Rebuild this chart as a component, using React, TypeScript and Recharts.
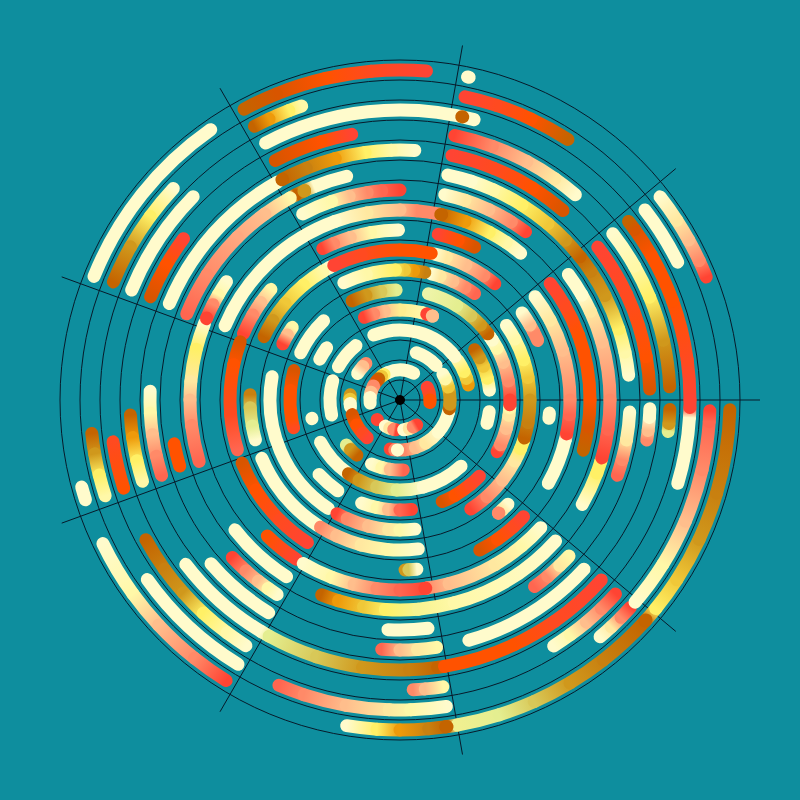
import React from 'react'
import { PieChart, Pie, PolarGrid } from 'recharts'

// palette
const W = '#FFFBCC', V = '#FFF8A8', N = '#FFE8A0', Y = '#FFF066', G = '#F0C838', A = '#EE9A0A', D = '#D0981C'
const B = '#C46400', O = '#FF5200', F = '#FF4A20', R = '#FF4433', T = '#FF6650', S = '#FF8A68', P = '#FFBE8C'
const L = '#E4EE90', M = '#D8C858', C = '#C88010', E = '#D85500'

type Stop = [number, string]

// each ring: list of arcs, each arc: [angle in degrees, colour] stops
const ring330: Stop[][] = [
    [[21.9, R], [25, S], [29, P], [33, N], [38, W]],
    [[77.9, W], [78.2, W]],
    [[85.4, R], [95, F], [103, O], [112, E], [118.2, B]],
    [[125, W], [158, W]],
    [[195.3, W], [197.6, W]],
    [[205.8, W], [216, V], [223, P], [231.5, S], [238.2, R]],
    [[260.7, W], [266, Y], [270, A], [275, C], [278, B], [280, '#F0F090'], [287.5, L], [294, M], [301, D], [308, C], [318, B], [320.8, Y], [327, G], [335, D], [343.6, C], [358.3, B]],
]
const ring310: Stop[][] = [
    [[26.4, W], [37.8, W]],
    [[57.2, B], [65, O], [72, F], [77.9, R]],
    [[108.5, V], [111, Y], [115, A], [118, B]],
    [[137, W], [143.7, Y], [150.4, D], [157.6, B]],
    [[186.2, B], [190, D], [194, Y], [198, V]],
    [[215.4, W], [238.5, W]],
    [[247, T], [252, S], [260, P], [268, N], [272, V], [278.6, W]],
    [[310.2, W], [313, N], [315.5, S], [318, R]],
    [[319.3, W], [328, V], [337, P], [347, S], [356, T], [358, R]],
]
const ring290: Stop[][] = [
    [[0, R], [8, F], [20, O], [30, O], [36, E], [38, B]],
    [[75.2, W], [117.6, W]],
    [[135.5, W], [157.7, W]],
    [[188.3, F], [197.7, O]],
    [[208.8, B], [215.7, C], [221.7, D], [227.3, Y], [233.4, V], [237.9, W]],
    [[272.6, S], [275, P], [278.5, V]],
    [[302, W], [306, V], [310, P], [314, S], [318, R]],
    [[343.3, W], [356.5, W], [358.5, R], [360, R]],
]
const ring270: Stop[][] = [
    [[2.8, B], [12.8, D], [22.4, Y], [29.7, V], [38, W]],
    [[49.5, W], [55, N], [62, P], [70, S], [78.3, R]],
    [[100.3, R], [107, O], [117.5, E]],
    [[143.3, R], [150, O], [157.5, E]],
    [[183.2, B], [188, A], [193, Y], [197.5, V]],
    [[217.5, W], [239, W], [241, L], [252, M], [262, D], [272, C], [278, B], [279.5, O], [295, O], [305, F], [318.2, R]],
    [[353.3, L], [355, D], [358, B]],
]
const ring250: Stop[][] = [
    [[2.5, E], [10, O], [25, F], [37.7, R]],
    [[49.3, E], [58, O], [68, F], [78, R]],
    [[86.6, W], [92, V], [98, Y], [105, A], [112, C], [118, B]],
    [[119.3, W], [157.3, W]],
    [[178, W], [183, V], [188, P], [193, S], [197.5, T]],
    [[220.9, W], [238.3, W]],
    [[265.8, T], [270, P], [274, N], [278.4, V]],
    [[286, W], [317.4, W]],
    [[350.8, S], [353, P], [356, W], [358, W]],
]
const ring230: Stop[][] = [
    [[6.2, W], [12, V], [18, Y], [27, D], [34, C], [38.5, B], [44, D], [50, G], [58, Y], [66, V], [72, W], [78, W]],
    [[103.4, W], [112, W], [114.5, D], [117, B], [118.5, V], [126, P], [135, '#FFA880'], [147, S], [158, T]],
    [[191, O], [196.7, O]],
    [[223.2, R], [228, S], [232, P], [235, V], [237.7, W]],
    [[267, W], [277, W]],
    [[305.8, T], [310, S], [314, N], [317.3, V]],
    [[340.9, T], [345, S], [350, N], [357, W]],
]
const ring210: Stop[][] = [
    [[0, S], [16, P], [25, N], [30, W], [36.7, W]],
    [[53.3, R], [58, S], [65, P], [72, N], [77.7, W]],
    [[90, R], [95, T], [99, S], [104, P], [109, V], [117.6, W]],
    [[145.7, W], [150, V], [153, S], [157, R]],
    [[158.5, W], [166, Y], [175, N], [180, P], [187, S], [197, T]],
    [[218.2, W], [237.3, W]],
    [[248.1, B], [253, A], [260, G], [266, Y], [275, '#F8F490'], [285, V], [317.8, W]],
    [[330.2, W], [339.6, Y], [343, Y], [344, R], [352, T], [360, S]],
]
const ring190: Stop[][] = [
    [[0, O], [20, O], [30, F], [37.8, R]],
    [[50.6, W], [56, V], [62, Y], [70, A], [77.4, B], [78, S], [85, S], [90, P], [100, N], [110, W], [157, W]],
    [[225.7, O], [237, R]],
    [[239.4, W], [249, V], [256, P], [263, S], [270, T], [277.6, R], [278.2, S], [285, P], [300, N], [310, V], [317.8, W]],
    [[344.7, B], [352, E], [360, O]],
]
const ring170: Stop[][] = [
    [[0, S], [17, P], [28, N], [37.4, W]],
    [[64, E], [70, O], [77, R]],
    [[90.5, W], [100, V], [107, P], [113, S], [117, R]],
    [[139.4, V], [145, P], [150, S], [157, R]],
    [[160, E], [168, O], [185, F], [197, T]],
    [[201.8, E], [212, O], [225, F], [237, R]],
    [[271.7, D], [273, M], [275.7, W]],
    [[298, E], [305, O], [312, F], [316.6, R]],
    [[330.7, W], [346.5, W], [348.5, R], [355, T], [360, S]],
]
const ring150: Stop[][] = [
    [[23.4, S], [27, S], [30, P], [35.5, W]],
    [[50.8, R], [56, S], [64, P], [72, N], [76.6, W]],
    [[78, O], [90, O], [105, F], [116, R], [118, W], [121, V], [130, Y], [140, G], [148, D], [155, B]],
    [[178, C], [183, M], [190, L], [195.4, W]],
    [[202.9, W], [236.8, W]],
    [[238, S], [245, P], [255, N], [265, V], [277, W]],
    [[311, S], [313, N], [316, W]],
    [[353, W], [355, W]],
]
const ring130: Stop[][] = [
    [[0, D], [10, G], [18, Y], [28, V], [35, W]],
    [[55, T], [60, S], [66, P], [72, N], [76, W]],
    [[79, C], [84, A], [88, G], [92, Y], [105, V], [115.6, W]],
    [[146, V], [150, P], [154.4, R]],
    [[169.7, W], [236.5, W]],
    [[241, R], [246, S], [256, P], [265, N], [270, V], [276.6, W]],
    [[303, R], [312, S], [322, P], [332, N], [338, Y], [341.5, Y], [343, B], [350, C], [360, D]],
]
const ring110: Stop[][] = [
    [[0, R], [10, S], [20, P], [28, V], [33, W], [35, W], [37, B], [43, D], [50, M], [59, L], [75, '#EEF4A8']],
    [[92, L], [100, M], [108, D], [115.8, B]],
    [[134, W], [154.6, W]],
    [[164.5, E], [175, O], [190, O], [194.6, F]],
    [[222.6, W], [235.6, W]],
    [[249.6, W], [258, V], [264, P], [270, T], [276, R]],
    [[292.6, E], [300, O], [310, F], [316.2, R]],
    [[332, R], [336, S], [345, P], [352, N], [356, V], [357.5, R], [360, R]],
]
const ring90: Stop[][] = [
    [[6.3, W], [14, Y], [22, G], [28, D], [34, B]],
    [[68.8, P], [72.5, R], [76, V], [90, '#FFEE90'], [100, P], [107, S], [113.3, R]],
    [[144.6, W], [153, W]],
    [[191.7, W], [192, W]],
    [[208, W], [234, W]],
    [[235, B], [243, D], [255, M], [268, L], [285, W], [312.7, W]],
    [[345, W], [352.5, W]],
]
const ring70: Stop[][] = [
    [[12.4, A], [18, G], [24, Y], [34.4, V]],
    [[38.5, W], [112, W]],
    [[129, W], [151.6, W]],
    [[164, W], [192.4, W]],
    [[220, L], [225, D], [232, B]],
    [[246, W], [255, V], [262, P], [272.7, T]],
]
const ring50: Stop[][] = [
    [[0, D], [7.6, D], [15, G], [25, V], [31, W]],
    [[43.7, W], [71, W]],
    [[133, S], [138, P], [148, W]],
    [[174, D], [179, G], [184, W], [188, W]],
    [[197, E], [210, O], [222, F], [229, R]],
    [[258.7, R], [264, S], [276, S], [288, P], [301, N], [320, W], [346, W], [350, B], [355, D], [360, D]],
]
const ring30: Stop[][] = [
    [[0, O], [15, F], [25, R]],
    [[63, W], [115, W], [122, Y], [128, G], [135, B], [142, E], [152, S], [165, P], [175, W], [186, W]],
    [[220.5, R], [221, R]],
    [[240.6, W], [250, N], [258, S], [262, R]],
    [[277, W], [288, N], [296, S], [303.7, R]],
    [[355, O], [360, O]],
]

const rings: [number, Stop[][]][] = [
    [330, ring330], [310, ring310], [290, ring290], [270, ring270], [250, ring250], [230, ring230], [210, ring210], [190, ring190],
    [170, ring170], [150, ring150], [130, ring130], [110, ring110], [90, ring90], [70, ring70], [50, ring50], [30, ring30],
]

// dots that sit on top of their neighbours: radius, angle, colour
const topDots: [number, number, string][] = [
    [330, 278, B], [330, 318, B], [290, 77.5, B], [250, 118, B], [230, 114.5, D], [210, 157, R], [190, 77.4, B], [190, 277.6, R],
    [150, 116, R], [150, 311, S], [90, 72.5, R], [90, 68.8, P], [50, 267, W],
]

const gridRadii = [20, 40, 60, 80, 100, 120, 140, 160, 180, 200, 220, 240, 260, 280, 300, 320, 340]
const spokeAngles = [0, 40, 80, 120, 160, 200, 240, 280, 320]
const centerDot = [{ value: 360 }]

const toRows = (id: string, arcs: Stop[][]) => {
    const rows: any[] = []
    let last = 0
    arcs.forEach((arc, a) => {
        if (arc[0][0] > last) rows.push({ value: arc[0][0] - last, gap: true, id: `${id}-g${a}` })
        for (let i = 1; i < arc.length; i++) {
            rows.push({ value: arc[i][0] - arc[i - 1][0], c0: arc[i - 1][1], c1: arc[i][1], id: `${id}-${a}-${i}` })
        }
        last = arc[arc.length - 1][0]
    })
    if (last < 360) rows.push({ value: 360 - last, gap: true, id: `${id}-end` })
    return rows
}

// one piece of a ring, stroked with round caps so the ends look like the dots of the original
const ArcPiece = (props: any) => {
    const { cx, cy, innerRadius, outerRadius, startAngle, endAngle } = props
    const row = props.payload ?? props
    if (row.gap) return null
    const r = (innerRadius + outerRadius) / 2
    const rad = Math.PI / 180
    const x0 = cx + r * Math.cos(startAngle * rad)
    const y0 = cy - r * Math.sin(startAngle * rad)
    const x1 = cx + r * Math.cos(endAngle * rad)
    const y1 = cy - r * Math.sin(endAngle * rad)
    const same = row.c0 === row.c1
    const large = Math.abs(endAngle - startAngle) > 180 ? 1 : 0
    return (
        <g>
            {!same && (
                <defs>
                    <linearGradient id={row.id} gradientUnits="userSpaceOnUse" x1={x0} y1={y0} x2={x1} y2={y1}>
                        <stop offset="0" stopColor={row.c0} />
                        <stop offset="1" stopColor={row.c1} />
                    </linearGradient>
                </defs>
            )}
            <path
                d={`M ${x0} ${y0} A ${r} ${r} 0 ${large} 0 ${x1} ${y1}`}
                fill="none"
                stroke={same ? row.c0 : `url(#${row.id})`}
                strokeWidth={outerRadius - innerRadius}
                strokeLinecap="round"
            />
        </g>
    )
}

const ringPie = (key: string, radius: number, rows: any[]) => (
    <Pie
        key={key}
        data={rows}
        dataKey="value"
        cx={400}
        cy={400}
        innerRadius={radius - 6.5}
        outerRadius={radius + 6.5}
        startAngle={0}
        endAngle={360}
        paddingAngle={0}
        stroke="none"
        shape={ArcPiece}
        inactiveShape={ArcPiece}
        label={false}
        labelLine={false}
        isAnimationActive={false}
    />
)

export default function App() {
    return (
        <div style={{ position: 'absolute', left: 0, top: 0, width: 800, height: 800, background: '#0E8E9E' }}>
            <PieChart width={800} height={800} margin={{ top: 0, right: 0, bottom: 0, left: 0 }} cx={400} cy={400} innerRadius={0} outerRadius={360}>
                {rings.map(([radius, arcs]) => ringPie(`r${radius}`, radius, toRows(`r${radius}`, arcs)))}
                {topDots.map(([radius, angle, colour], i) =>
                    ringPie(`t${i}`, radius, toRows(`t${i}`, [[[angle, colour], [angle + 0.2, colour]]]))
                )}
                <PolarGrid
                    cx={400}
                    cy={400}
                    innerRadius={0}
                    outerRadius={360}
                    gridType="circle"
                    polarAngles={spokeAngles}
                    polarRadius={gridRadii}
                    stroke="#071a2a"
                    strokeWidth={1}
                />
                <Pie
                    data={centerDot}
                    dataKey="value"
                    cx={400}
                    cy={400}
                    innerRadius={0}
                    outerRadius={5}
                    fill="#000000"
                    stroke="none"
                    isAnimationActive={false}
                />
            </PieChart>
        </div>
    )
}
